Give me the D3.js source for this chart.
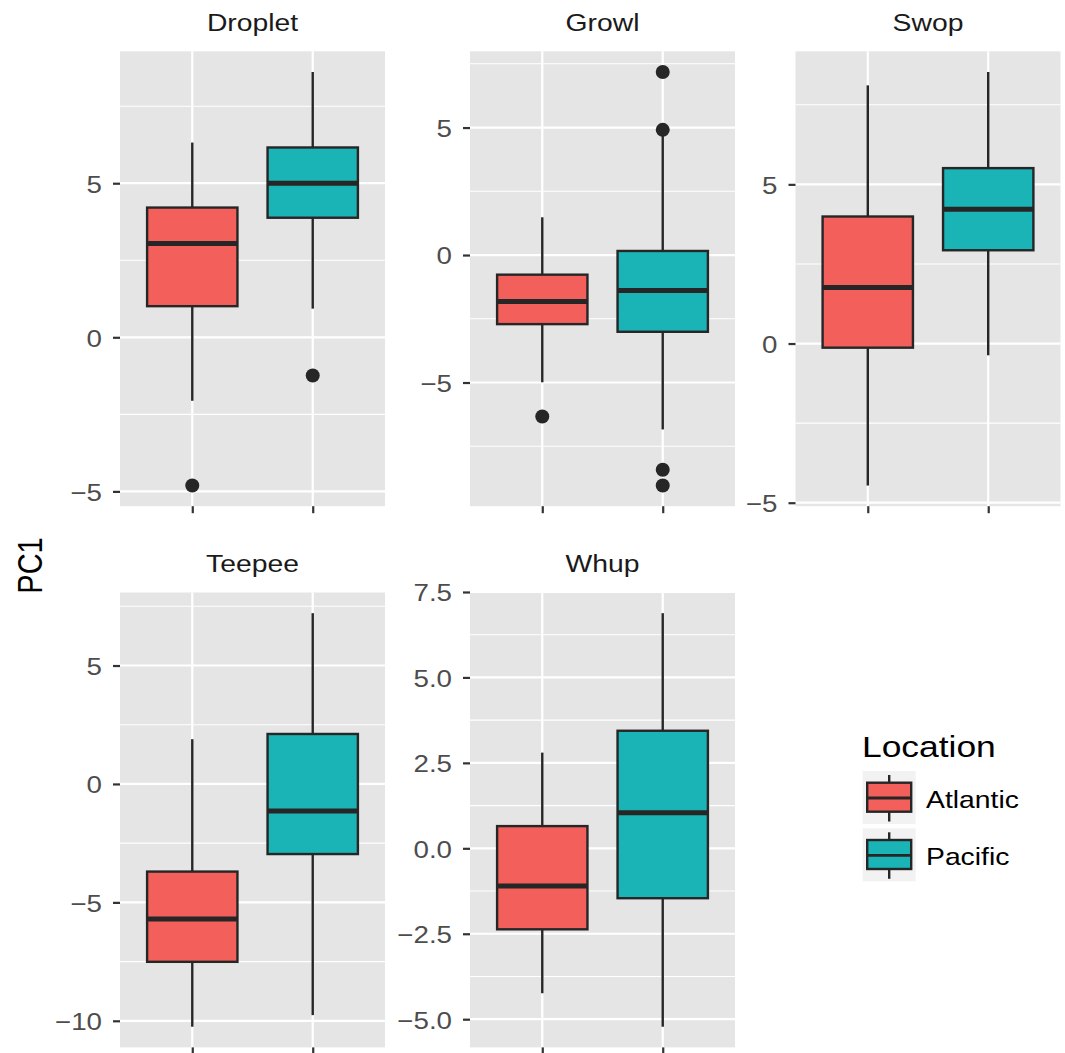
<!DOCTYPE html>
<html>
<head>
<meta charset="utf-8">
<script src="https://cdn.jsdelivr.net/npm/d3@7"></script>
<style>
  html, body { margin: 0; padding: 0; background: #ffffff; }
  svg { display: block; }
  text { font-family: "Liberation Sans", Arial, Helvetica, sans-serif; }
</style>
</head>
<body>
<svg id="chart" width="1065" height="1053"></svg>
<script>
// ---------- data ----------
const facets = ["Droplet", "Growl", "Swop", "Teepee", "Whup"];
const locations = ["Atlantic", "Pacific"];

const atlanticMin      = [-2.06, -4.99, -4.46, -10.25, -4.24];
const atlanticQ1       = [ 1.01, -2.71, -0.13,  -7.51, -2.37];
const atlanticMedian   = [ 3.04, -1.82,  1.76,  -5.70, -1.10];
const atlanticQ3       = [ 4.21, -0.77,  3.99,  -3.70,  0.65];
const atlanticMax      = [ 6.32,  1.48,  8.11,   1.89,  2.80];
const atlanticOutliers = [[-4.81], [-6.33], [], [], []];

const pacificMin      = [ 0.93, -6.84, -0.37, -9.76, -5.22];
const pacificQ1       = [ 3.88, -3.01,  2.93, -2.96, -1.46];
const pacificMedian   = [ 5.00, -1.39,  4.22, -1.14,  1.04];
const pacificQ3       = [ 6.16,  0.16,  5.51,  2.11,  3.44];
const pacificMax      = [ 8.61,  4.75,  8.53,  7.21,  6.88];
const pacificOutliers = [[-1.24], [4.91, 7.18, -8.42, -9.04], [], [], []];

const tickValues = [
  [-5, 0, 5],
  [-5, 0, 5],
  [-5, 0, 5],
  [-10, -5, 0, 5],
  [-5, -2.5, 0, 2.5, 5, 7.5]
];
const tickLabels = [
  ["\u22125", "0", "5"],
  ["\u22125", "0", "5"],
  ["\u22125", "0", "5"],
  ["\u221210", "\u22125", "0", "5"],
  ["\u22125.0", "\u22122.5", "0.0", "2.5", "5.0", "7.5"]
];
const fillColors = ["#F35F5B", "#1AB3B6"];

const series = {
  Atlantic: { min: atlanticMin, q1: atlanticQ1, med: atlanticMedian, q3: atlanticQ3, max: atlanticMax, out: atlanticOutliers },
  Pacific:  { min: pacificMin,  q1: pacificQ1,  med: pacificMedian,  q3: pacificQ3,  max: pacificMax,  out: pacificOutliers }
};

// ---------- layout ----------
const SX = 1.18;               // horizontal text stretch seen in the reference
const colLeft = [120, 470, 795.5];
const rowTop = [51.3, 592.5];
const panelW = 265, panelH = 454.9;
const panelBg = "#E5E5E5";
const ink = "#262626";

const svg = d3.select("#chart");
svg.append("rect").attr("width", 1065).attr("height", 1053).attr("fill", "#fff");

const color = d3.scaleOrdinal(locations, fillColors);

function stretched(sel, x, y, rotate) {
  sel.attr("x", 0).attr("y", 0)
     .attr("transform", `translate(${x},${y}) scale(${SX},1)` + (rotate ? ` rotate(${rotate})` : ""));
  return sel;
}

facets.forEach((name, f) => {
  const col = f % 3, row = Math.floor(f / 3);
  const g = svg.append("g").attr("transform", `translate(${colLeft[col]},${rowTop[row]})`);

  const stats = locations.map(loc => {
    const s = series[loc];
    return { loc, min: s.min[f], q1: s.q1[f], med: s.med[f], q3: s.q3[f], max: s.max[f], out: s.out[f] };
  });
  const all = [];
  stats.forEach(s => { all.push(s.min, s.max, ...s.out); });
  const ext = d3.extent(all);
  const pad = (ext[1] - ext[0]) * 0.05;
  const y = d3.scaleLinear().domain([ext[0] - pad, ext[1] + pad]).range([panelH, 0]);
  const x = d3.scalePoint().domain(locations).range([0, panelW]).padding(0.6);
  const boxW = x.step() * 0.75;

  // background
  g.append("rect").attr("width", panelW).attr("height", panelH).attr("fill", panelBg);

  // minor grid
  const tv = tickValues[f];
  const stepT = tv[1] - tv[0];
  const minors = [tv[0] - stepT / 2, ...tv.map(t => t + stepT / 2)]
    .filter(v => v >= y.domain()[0] && v <= y.domain()[1]);
  g.selectAll(".minor").data(minors).join("line")
    .attr("x1", 0).attr("x2", panelW)
    .attr("y1", d => y(d)).attr("y2", d => y(d))
    .attr("stroke", "#fff").attr("stroke-width", 1.1);
  // major grid
  g.selectAll(".major").data(tv).join("line")
    .attr("x1", 0).attr("x2", panelW)
    .attr("y1", d => y(d)).attr("y2", d => y(d))
    .attr("stroke", "#fff").attr("stroke-width", 2.2);
  g.selectAll(".vmajor").data(locations).join("line")
    .attr("x1", d => x(d)).attr("x2", d => x(d))
    .attr("y1", 0).attr("y2", panelH)
    .attr("stroke", "#fff").attr("stroke-width", 2.2);

  // boxes
  const b = g.selectAll(".box").data(stats).join("g");
  b.append("line")
    .attr("x1", d => x(d.loc)).attr("x2", d => x(d.loc))
    .attr("y1", d => y(d.max)).attr("y2", d => y(d.q3))
    .attr("stroke", ink).attr("stroke-width", 2.4);
  b.append("line")
    .attr("x1", d => x(d.loc)).attr("x2", d => x(d.loc))
    .attr("y1", d => y(d.q1)).attr("y2", d => y(d.min))
    .attr("stroke", ink).attr("stroke-width", 2.4);
  b.append("rect")
    .attr("x", d => x(d.loc) - boxW / 2).attr("width", boxW)
    .attr("y", d => y(d.q3)).attr("height", d => y(d.q1) - y(d.q3))
    .attr("fill", d => color(d.loc)).attr("stroke", ink).attr("stroke-width", 2.4);
  b.append("line")
    .attr("x1", d => x(d.loc) - boxW / 2).attr("x2", d => x(d.loc) + boxW / 2)
    .attr("y1", d => y(d.med)).attr("y2", d => y(d.med))
    .attr("stroke", ink).attr("stroke-width", 5);
  b.selectAll("circle").data(d => d.out.map(v => ({ loc: d.loc, v }))).join("circle")
    .attr("cx", d => x(d.loc)).attr("cy", d => y(d.v)).attr("r", 7)
    .attr("fill", ink);

  // y axis
  const yAxis = g.append("g").call(
    d3.axisLeft(y).tickValues(tv).tickSize(7).tickPadding(11)
      .tickFormat((d, i) => tickLabels[f][i]));
  yAxis.select(".domain").remove();
  yAxis.selectAll(".tick line").attr("stroke", "#333").attr("stroke-width", 2.2);
  yAxis.selectAll(".tick text")
    .attr("fill", "#4D4D4D").attr("font-size", 23.5)
    .attr("font-family", "Liberation Sans, Arial, sans-serif")
    .attr("x", -18 / SX).attr("dy", "0.38em")
    .attr("transform", `scale(${SX},1)`);

  // x axis (ticks only)
  const xAxis = g.append("g").attr("transform", `translate(0,${panelH})`)
    .call(d3.axisBottom(x).tickSize(7).tickFormat(""));
  xAxis.select(".domain").remove();
  xAxis.selectAll(".tick line").attr("stroke", "#333").attr("stroke-width", 2.2);

  // strip title
  g.append("text").text(name)
    .attr("text-anchor", "middle").attr("font-size", 24).attr("fill", "#1A1A1A")
    .call(stretched, panelW / 2, -20.3);
});

// y axis title
svg.append("text").text("PC1")
  .attr("text-anchor", "middle").attr("font-size", 29).attr("fill", "#000")
  .call(stretched, 41.5, 565.5, -90);

// legend
const legend = svg.append("g");
legend.append("text").text("Location")
  .attr("font-size", 30).attr("fill", "#000")
  .call(stretched, 862, 757);
const keys = legend.selectAll(".key").data(locations).join("g")
  .attr("transform", (d, i) => `translate(862.7,${771 + i * 57.3})`);
keys.append("rect").attr("width", 53).attr("height", 53).attr("fill", "#F2F2F2");
keys.append("line").attr("x1", 26.5).attr("x2", 26.5).attr("y1", 4).attr("y2", 50.5)
  .attr("stroke", ink).attr("stroke-width", 2.4);
keys.append("rect").attr("x", 4.5).attr("width", 44).attr("y", 11.7).attr("height", 29)
  .attr("fill", d => color(d)).attr("stroke", ink).attr("stroke-width", 2.4);
keys.append("line").attr("x1", 4.5).attr("x2", 48.5).attr("y1", 27).attr("y2", 27)
  .attr("stroke", ink).attr("stroke-width", 2.8);
keys.append("text").text(d => d)
  .attr("font-size", 24).attr("fill", "#000")
  .each(function () { d3.select(this).call(stretched, 63.3, 37); });
</script>
</body>
</html>
